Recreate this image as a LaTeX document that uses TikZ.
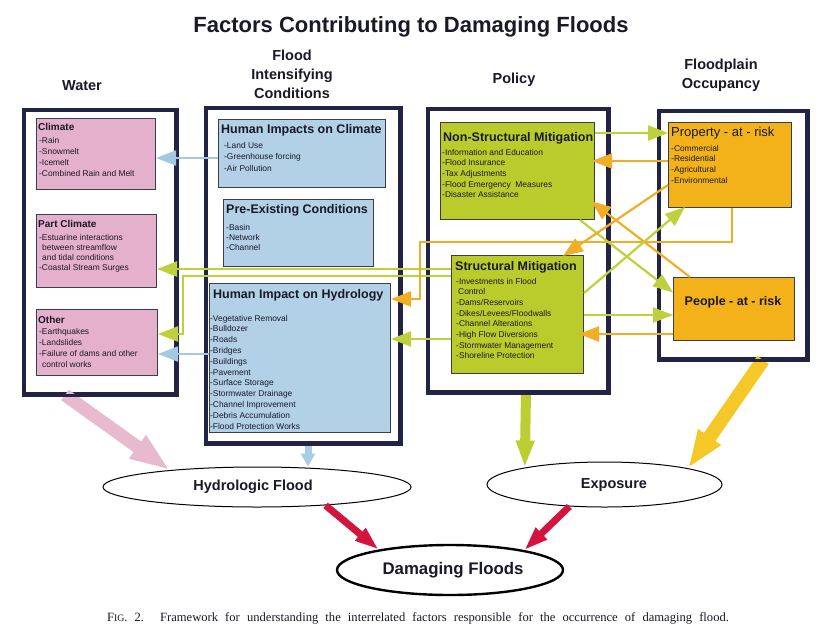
\documentclass[tikz,border=0pt]{standalone}
\usepackage{fontspec}
\setmainfont{Liberation Sans}
\newfontfamily\capfont{Liberation Serif}
\usetikzlibrary{arrows.meta,shapes.geometric,calc}
\definecolor{framec}{RGB}{35,35,70}
\definecolor{boxline}{RGB}{60,60,75}
\definecolor{txtc}{RGB}{25,25,40}
\definecolor{pinkbox}{RGB}{229,176,204}
\definecolor{bluebox}{RGB}{178,208,230}
\definecolor{greenbox}{RGB}{186,204,44}
\definecolor{orangebox}{RGB}{244,178,26}
\definecolor{glinec}{RGB}{190,208,60}
\definecolor{olinec}{RGB}{240,174,36}
\definecolor{blinec}{RGB}{165,200,225}
\definecolor{pinkA}{RGB}{232,186,206}
\definecolor{blueA}{RGB}{170,205,230}
\definecolor{greenA}{RGB}{188,206,50}
\definecolor{yellowA}{RGB}{245,200,40}
\definecolor{redA}{RGB}{212,20,60}
\newcommand\myitems[5]{\foreach \t [count=\i] in {#5}{\node[itm] (#1\i) at (#2,{#3+(\i-1)*#4}) {\t};}}
\begin{document}
\begin{tikzpicture}[x=1pt,y=-1pt,
  frame/.style={draw=framec,line width=3pt,inner sep=0,anchor=north west},
  inbox/.style={draw=boxline,line width=1pt,inner sep=0,anchor=north west},
  hdr/.style={font=\bfseries\fontsize{14.5}{19}\selectfont,text=txtc,align=center,inner sep=0},
  ttlw/.style={font=\bfseries\fontsize{10}{12}\selectfont,text=txtc,anchor=base west,inner sep=0},
  ttl/.style={font=\bfseries\fontsize{12.5}{14}\selectfont,text=txtc,anchor=base west,inner sep=0},
  itm/.style={font=\fontsize{8.4}{10}\selectfont,text=txtc,anchor=base west,inner sep=0},
  conn/.style={line width=2.2pt,-{Triangle[length=20pt,width=15pt]}},
  gconn/.style={conn,color=glinec},
  oconn/.style={conn,color=olinec},
  bconn/.style={conn,color=blinec,line width=1.8pt},
  ell/.style={ellipse,draw=black,fill=white,line width=1pt,inner sep=0},
  elltxt/.style={font=\bfseries\fontsize{14.5}{16}\selectfont,text=txtc,inner sep=0}]
\useasboundingbox (0,0) rectangle (838,635);
\fill[white] (0,0) rectangle (838,635);

% title and headers
\node[font=\bfseries\fontsize{22}{26}\selectfont,text=txtc,inner sep=0] (title) at (411,27) {Factors Contributing to Damaging Floods};
\node[hdr] (hwater) at (82,86) {Water};
\node[hdr] (hfic) at (292,74) {Flood\\Intensifying\\Conditions};
\node[hdr] (hpol) at (514,80) {Policy};
\node[hdr] (hfpo) at (721,75.5) {Floodplain\\Occupancy};

% ellipses
\node[ell,minimum width=308pt,minimum height=40pt] (hf) at (257,487) {};
\node[ell,minimum width=235pt,minimum height=45pt] (exp) at (604.5,484.5) {};
\node[ell,line width=2.4pt,minimum width=226pt,minimum height=50pt] (df) at (450,570) {};
\node[elltxt] (hftxt) at (253,487) {Hydrologic Flood};
\node[elltxt] (exptxt) at (614,485) {Exposure};
\node[elltxt,font=\bfseries\fontsize{16.8}{18}\selectfont] (dftxt) at (453,570) {Damaging Floods};

% frames (nodes)
\node[frame,minimum width=151pt,minimum height=283pt] (water) at (23,109) {};
\node[frame,minimum width=193pt,minimum height=334pt] (fic) at (205,107) {};
\node[frame,minimum width=179pt,minimum height=282pt] (pol) at (427,108) {};
\node[frame,minimum width=147pt,minimum height=247pt] (fpo) at (658,110) {};

% big arrows
\draw[color=pinkA,line width=13pt,-{Triangle[length=40pt,width=26pt]}] ($(water.south west)+(42,0)$) -- (hf.169);
\draw[color=blueA,line width=7pt,-{Triangle[length=13pt,width=14pt]}] (fic.south -| 308,0) -- (hf.north -| 308,0);
\draw[color=greenA,line width=10pt,-{Triangle[length=27pt,width=17pt]}] (pol.south -| 526,0) -- (exp.168);
\draw[color=yellowA,line width=14pt,-{Triangle[length=38pt,width=25pt]}] ($(fpo.south west)+(105,0)$) -- (exp.11);
\draw[color=redA,line width=7pt,-{Triangle[length=24pt,width=15pt]}] (hf.-15.6) -- (df.164);
\draw[color=redA,line width=7pt,-{Triangle[length=24pt,width=15pt]}] (exp.212) -- (df.15);

% redraw frames on top of big arrow starts
\draw[framec,line width=3pt] (water.north west) rectangle (water.south east);
\draw[framec,line width=3pt] (fic.north west) rectangle (fic.south east);
\draw[framec,line width=3pt] (pol.north west) rectangle (pol.south east);
\draw[framec,line width=3pt] (fpo.north west) rectangle (fpo.south east);

% inner boxes
\node[inbox,fill=pinkbox,minimum width=119pt,minimum height=71pt] (climate) at (36,118) {};
\node[inbox,fill=pinkbox,minimum width=120pt,minimum height=73pt] (partc) at (36,214) {};
\node[inbox,fill=pinkbox,minimum width=121pt,minimum height=66pt] (other) at (36,309) {};
\node[inbox,fill=bluebox,minimum width=167pt,minimum height=68pt] (hic) at (218,119) {};
\node[inbox,fill=bluebox,minimum width=150pt,minimum height=67pt] (pec) at (223,199) {};
\node[inbox,fill=bluebox,minimum width=181pt,minimum height=149pt] (hih) at (209,283) {};
\node[inbox,fill=greenbox,minimum width=154pt,minimum height=97pt] (nsm) at (440,122) {};
\node[inbox,fill=greenbox,minimum width=132pt,minimum height=118pt] (sm) at (451,255) {};
\node[inbox,fill=orangebox,minimum width=123pt,minimum height=85pt] (prop) at (668,122) {};
\node[inbox,fill=orangebox,minimum width=121pt,minimum height=63pt] (ppl) at (673,277) {};

% box texts
\node[ttlw] (tclimate) at (38,130.5) {Climate};
\myitems{climate}{39}{143}{11.3}{-Rain,-Snowmelt,-Icemelt,-Combined Rain and Melt}
\node[ttlw] (tpartc) at (38,227.5) {Part Climate};
\myitems{partc}{39}{240}{10}{-Estuarine interactions,\hspace{3pt}between streamflow,\hspace{3pt}and tidal conditions,-Coastal Stream Surges}
\node[ttlw] (tother) at (38,323.5) {Other};
\myitems{other}{39}{334}{11.3}{-Earthquakes,-Landslides,-Failure of dams and other,\hspace{3pt}control works}
\node[ttl] (thic) at (221,133.5) {Human Impacts on Climate};
\myitems{hic}{224}{148.5}{11.3}{-Land Use,-Greenhouse forcing,-Air Pollution}
\node[ttl] (tpec) at (226,213.5) {Pre-Existing Conditions};
\myitems{pec}{226}{230}{10}{-Basin,-Network,-Channel}
\node[ttl] (thih) at (213,298.5) {Human Impact on Hydrology};
\myitems{hih}{210}{321}{10.8}{-Vegetative Removal,-Bulldozer,-Roads,-Bridges,-Buildings,-Pavement,-Surface Storage,-Stormwater Drainage,-Channel Improvement,-Debris Accumulation,-Flood Protection Works}
\node[ttl] (tnsm) at (443,141.5) {Non-Structural Mitigation};
\myitems{nsm}{442}{155}{10.7}{-Information and Education,-Flood Insurance,-Tax Adjustments,-Flood Emergency\ \ Measures,-Disaster Assistance}
\node[ttl] (tsm) at (455,270.5) {Structural Mitigation};
\myitems{sm}{456}{284}{10.7}{-Investments in Flood,\hspace{2pt}Control,-Dams/Reservoirs,-Dikes/Levees/Floodwalls,-Channel Alterations,-High Flow Diversions,-Stormwater Management,-Shoreline Protection}
\node[ttl,font=\fontsize{13}{15}\selectfont] (tprop) at (671,136.5) {Property - at - risk};
\myitems{prop}{671}{151}{10.7}{-Commercial,-Residential,-Agricultural,-Environmental}
\node[ttl,anchor=base] (tppl) at (733,305.5) {People - at - risk};

% connectors
\coordinate (g1) at (183,276);
\coordinate (o1) at (732,242);
\coordinate (o2) at (420,242);
\draw[bconn] (hic.west |- 0,158) -- (climate.east |- 0,158);
\draw[bconn] (hih.west |- 0,354) -- (other.east |- 0,354);
\draw[gconn] (sm.west |- 0,269) -- (partc.east |- 0,269);
\draw[gconn] (sm.west |- 0,276) -- (g1) |- (other.east |- 0,334);
\draw[gconn] (sm.west |- 0,339) -- (hih.east |- 0,339);
\draw[oconn] (o1 |- prop.south) -- (o1) -- (o2) |- (hih.east |- 0,299);
\draw[gconn] (nsm.east |- 0,133) -- (prop.west |- 0,133);
\draw[oconn] (prop.west |- 0,161) -- ([xshift=-3pt]nsm.east |- 0,161);
\draw[oconn] ($(ppl.north west)+(17,0)$) -- ($(nsm.south east)+(-4,-19)$);
\draw[gconn] ($(nsm.south east)+(-15,0)$) -- ($(ppl.west)+(0,-16.5)$);
\draw[oconn] ($(prop.west)+(0,20)$) -- ($(sm.north east)+(-21,1)$);
\draw[gconn] (sm.east |- 0,293) -- ($(prop.south west)+(17,-1)$);
\draw[gconn] (sm.east |- 0,315) -- (ppl.west |- 0,315);
\draw[oconn] (ppl.west |- 0,334) -- ([xshift=-5pt]sm.east |- 0,334);

% caption
\node[inner sep=0,text=txtc] (caption) at (418,618) {\capfont\fontsize{12.6}{14}\selectfont\makebox[622pt][s]{F{\fontsize{9.8}{11}\selectfont IG}. 2. Framework for understanding the interrelated factors responsible for the occurrence of damaging flood.}};
\end{tikzpicture}
\end{document}
